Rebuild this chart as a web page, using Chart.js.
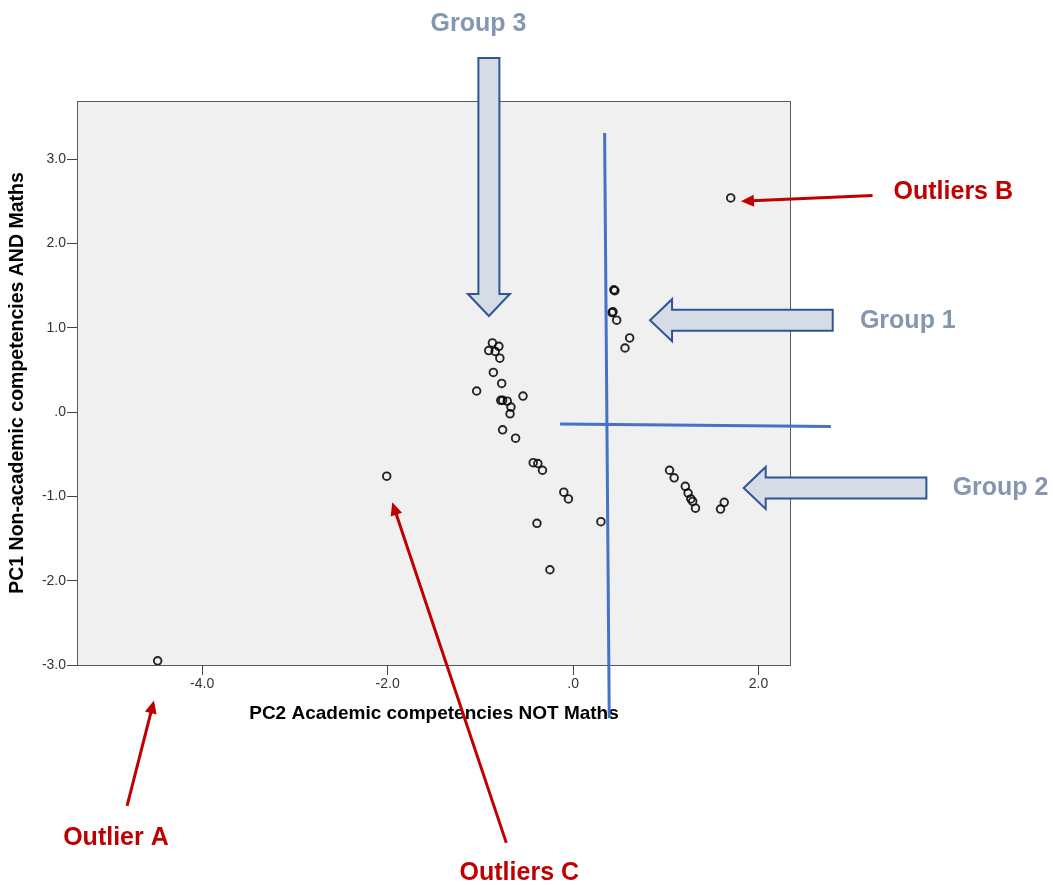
<!DOCTYPE html>
<html>
<head>
<meta charset="utf-8">
<script src="https://cdn.jsdelivr.net/npm/chart.js@4.4.0/dist/chart.umd.min.js"></script>
<style>
  html, body { margin: 0; padding: 0; background: #fff; }
</style>
</head>
<body>
<canvas id="grafica" width="1053" height="885"></canvas>
<script>
// PC2 (x) and PC1 (y) scores
const pc2 = [-4.48, -2.01, 1.70,
  0.45, 0.44, 0.42, 0.43, 0.47, 0.61, 0.56,
  -0.87, -0.80, -0.91, -0.84, -0.79, -0.86, -0.77, -1.04, -0.54, -0.78, -0.76, -0.71,
  -0.67, -0.68, -0.76, -0.62, -0.43, -0.38, -0.33, -0.10, -0.05, -0.39, 0.30, -0.25,
  1.04, 1.09, 1.21, 1.24, 1.27, 1.29, 1.32, 1.63, 1.59];
const pc1 = [-2.95, -0.76, 2.54,
  1.44, 1.45, 1.18, 1.19, 1.09, 0.88, 0.76,
  0.82, 0.78, 0.73, 0.72, 0.64, 0.47, 0.34, 0.25, 0.19, 0.14, 0.14, 0.13,
  0.06, -0.02, -0.21, -0.31, -0.60, -0.61, -0.69, -0.95, -1.03, -1.32, -1.30, -1.87,
  -0.69, -0.78, -0.88, -0.96, -1.03, -1.06, -1.14, -1.07, -1.15];

const xTicks = [-4, -2, 0, 2];
const yTicks = [-3, -2, -1, 0, 1, 2, 3];

// annotations, anchored in data units
const blueLines = [
  { from: [0.34, 3.31], to: [0.39, -3.63] },
  { from: [-0.14, -0.14], to: [2.78, -0.17] }
];
const groupArrows = [
  { from: [-0.908, 4.20], to: [-0.908, 1.14] },
  { from: [2.80, 1.09], to: [0.83, 1.09] },
  { from: [3.81, -0.90], to: [1.84, -0.90] }
];
const groupLabels = [
  { text: 'Group 3', at: [-1.02, 4.60] },
  { text: 'Group 1', at: [3.61, 1.08] },
  { text: 'Group 2', at: [4.61, -0.90] }
];
const redArrows = [
  { from: [3.23, 2.57], to: [1.81, 2.50] },
  { from: [-4.81, -4.67], to: [-4.52, -3.42] },
  { from: [-0.72, -5.11], to: [-1.95, -1.07] }
];
const redLabels = [
  { text: 'Outliers B', at: [4.10, 2.61] },
  { text: 'Outlier A', at: [-4.93, -5.05] },
  { text: 'Outliers C', at: [-0.58, -5.47] }
];

const fmt = v => (v === 0 ? '.0' : v.toFixed(1));

const frame = {
  id: 'frame',
  beforeDraw(chart) {
    const { ctx, chartArea: a } = chart;
    ctx.save();
    ctx.fillStyle = '#f0f0f0';
    ctx.fillRect(a.left, a.top, a.right - a.left, a.bottom - a.top);
    ctx.strokeStyle = '#5a5a5a';
    ctx.lineWidth = 1;
    ctx.strokeRect(a.left + 0.5, a.top + 0.5, a.right - a.left - 1, a.bottom - a.top);
    ctx.restore();
  }
};

function toPx(chart, p) {
  return [chart.scales.x.getPixelForValue(p[0]), chart.scales.y.getPixelForValue(p[1])];
}

function blockArrow(ctx, t, p, sw, hw, hl) {
  const dx = p[0] - t[0], dy = p[1] - t[1];
  const len = Math.hypot(dx, dy);
  const ux = dx / len, uy = dy / len;
  const nx = -uy, ny = ux;
  const b = [p[0] - ux * hl, p[1] - uy * hl];
  const pts = [
    [t[0] + nx * sw, t[1] + ny * sw],
    [b[0] + nx * sw, b[1] + ny * sw],
    [b[0] + nx * hw, b[1] + ny * hw],
    p,
    [b[0] - nx * hw, b[1] - ny * hw],
    [b[0] - nx * sw, b[1] - ny * sw],
    [t[0] - nx * sw, t[1] - ny * sw]
  ];
  ctx.beginPath();
  pts.forEach((q, i) => (i ? ctx.lineTo(q[0], q[1]) : ctx.moveTo(q[0], q[1])));
  ctx.closePath();
  ctx.fill();
  ctx.stroke();
}

function redArrow(ctx, t, p) {
  const dx = p[0] - t[0], dy = p[1] - t[1];
  const len = Math.hypot(dx, dy);
  const ux = dx / len, uy = dy / len;
  const nx = -uy, ny = ux;
  const hl = 13, hw = 6;
  const b = [p[0] - ux * hl, p[1] - uy * hl];
  ctx.beginPath();
  ctx.moveTo(t[0], t[1]);
  ctx.lineTo(b[0] + ux * 2, b[1] + uy * 2);
  ctx.stroke();
  ctx.beginPath();
  ctx.moveTo(p[0], p[1]);
  ctx.lineTo(b[0] + nx * hw, b[1] + ny * hw);
  ctx.lineTo(b[0] - nx * hw, b[1] - ny * hw);
  ctx.closePath();
  ctx.fill();
}

const notes = {
  id: 'notes',
  afterDraw(chart) {
    const ctx = chart.ctx;
    ctx.save();
    ctx.lineCap = 'butt';
    ctx.strokeStyle = '#4472c4';
    ctx.lineWidth = 3;
    blueLines.forEach(l => {
      const a = toPx(chart, l.from), b = toPx(chart, l.to);
      ctx.beginPath();
      ctx.moveTo(a[0], a[1]);
      ctx.lineTo(b[0], b[1]);
      ctx.stroke();
    });

    ctx.fillStyle = '#d6dce5';
    ctx.strokeStyle = '#2f5597';
    ctx.lineWidth = 2;
    ctx.lineJoin = 'miter';
    groupArrows.forEach(g => blockArrow(ctx, toPx(chart, g.from), toPx(chart, g.to), 10.5, 21, 22));

    ctx.strokeStyle = '#c00000';
    ctx.fillStyle = '#c00000';
    ctx.lineWidth = 3;
    redArrows.forEach(r => redArrow(ctx, toPx(chart, r.from), toPx(chart, r.to)));

    ctx.textAlign = 'center';
    ctx.textBaseline = 'middle';
    ctx.font = 'bold 25px "Liberation Sans", Arial, sans-serif';
    ctx.fillStyle = '#8497b0';
    groupLabels.forEach(g => {
      const p = toPx(chart, g.at);
      ctx.fillText(g.text, p[0], p[1]);
    });
    ctx.fillStyle = '#c00000';
    redLabels.forEach(g => {
      const p = toPx(chart, g.at);
      ctx.fillText(g.text, p[0], p[1]);
    });
    ctx.restore();
  }
};

const graph = document.getElementById('grafica');
const myChart = new Chart(graph, {
  type: 'scatter',
  data: {
    datasets: [{
      data: pc2.map((x, i) => ({ x: x, y: pc1[i] })),
      pointRadius: 3.8,
      pointBorderWidth: 1.9,
      pointBorderColor: 'rgba(0,0,0,0.85)',
      pointBackgroundColor: 'rgba(0,0,0,0)',
      pointHoverRadius: 3.8
    }]
  },
  options: {
    responsive: false,
    animation: false,
    layout: { padding: { top: 101, right: 262, bottom: 156, left: 0 } },
    plugins: { legend: { display: false }, tooltip: { enabled: false } },
    scales: {
      x: {
        type: 'linear',
        min: -5.35,
        max: 2.35,
        afterBuildTicks: s => { s.ticks = xTicks.map(v => ({ value: v })); },
        afterFit: s => { s.height = 64; },
        grid: { drawOnChartArea: false, drawTicks: true, tickLength: 10, color: '#444' },
        border: { display: false },
        ticks: {
          callback: v => fmt(v),
          color: '#333',
          font: { family: '"Liberation Sans", Arial, sans-serif', size: 14 },
          padding: 1,
          maxRotation: 0
        },
        title: {
          display: true,
          text: 'PC2 Academic competencies NOT Maths',
          color: '#000',
          font: { family: '"Liberation Sans", Arial, sans-serif', size: 19, weight: 'bold' },
          padding: { top: 0, bottom: 4 }
        }
      },
      y: {
        type: 'linear',
        min: -3.0,
        max: 3.69,
        afterBuildTicks: s => { s.ticks = yTicks.map(v => ({ value: v })); },
        afterFit: s => { s.width = 77; },
        grid: { drawOnChartArea: false, drawTicks: true, tickLength: 10, color: '#444' },
        border: { display: false },
        ticks: {
          callback: v => fmt(v),
          color: '#333',
          font: { family: '"Liberation Sans", Arial, sans-serif', size: 14 },
          padding: 1
        },
        title: {
          display: true,
          text: 'PC1 Non-academic competencies AND Maths',
          color: '#000',
          font: { family: '"Liberation Sans", Arial, sans-serif', size: 19.5, weight: 'bold' },
          padding: { top: 6, bottom: 0 }
        }
      }
    }
  },
  plugins: [frame, notes]
});
</script>
</body>
</html>
